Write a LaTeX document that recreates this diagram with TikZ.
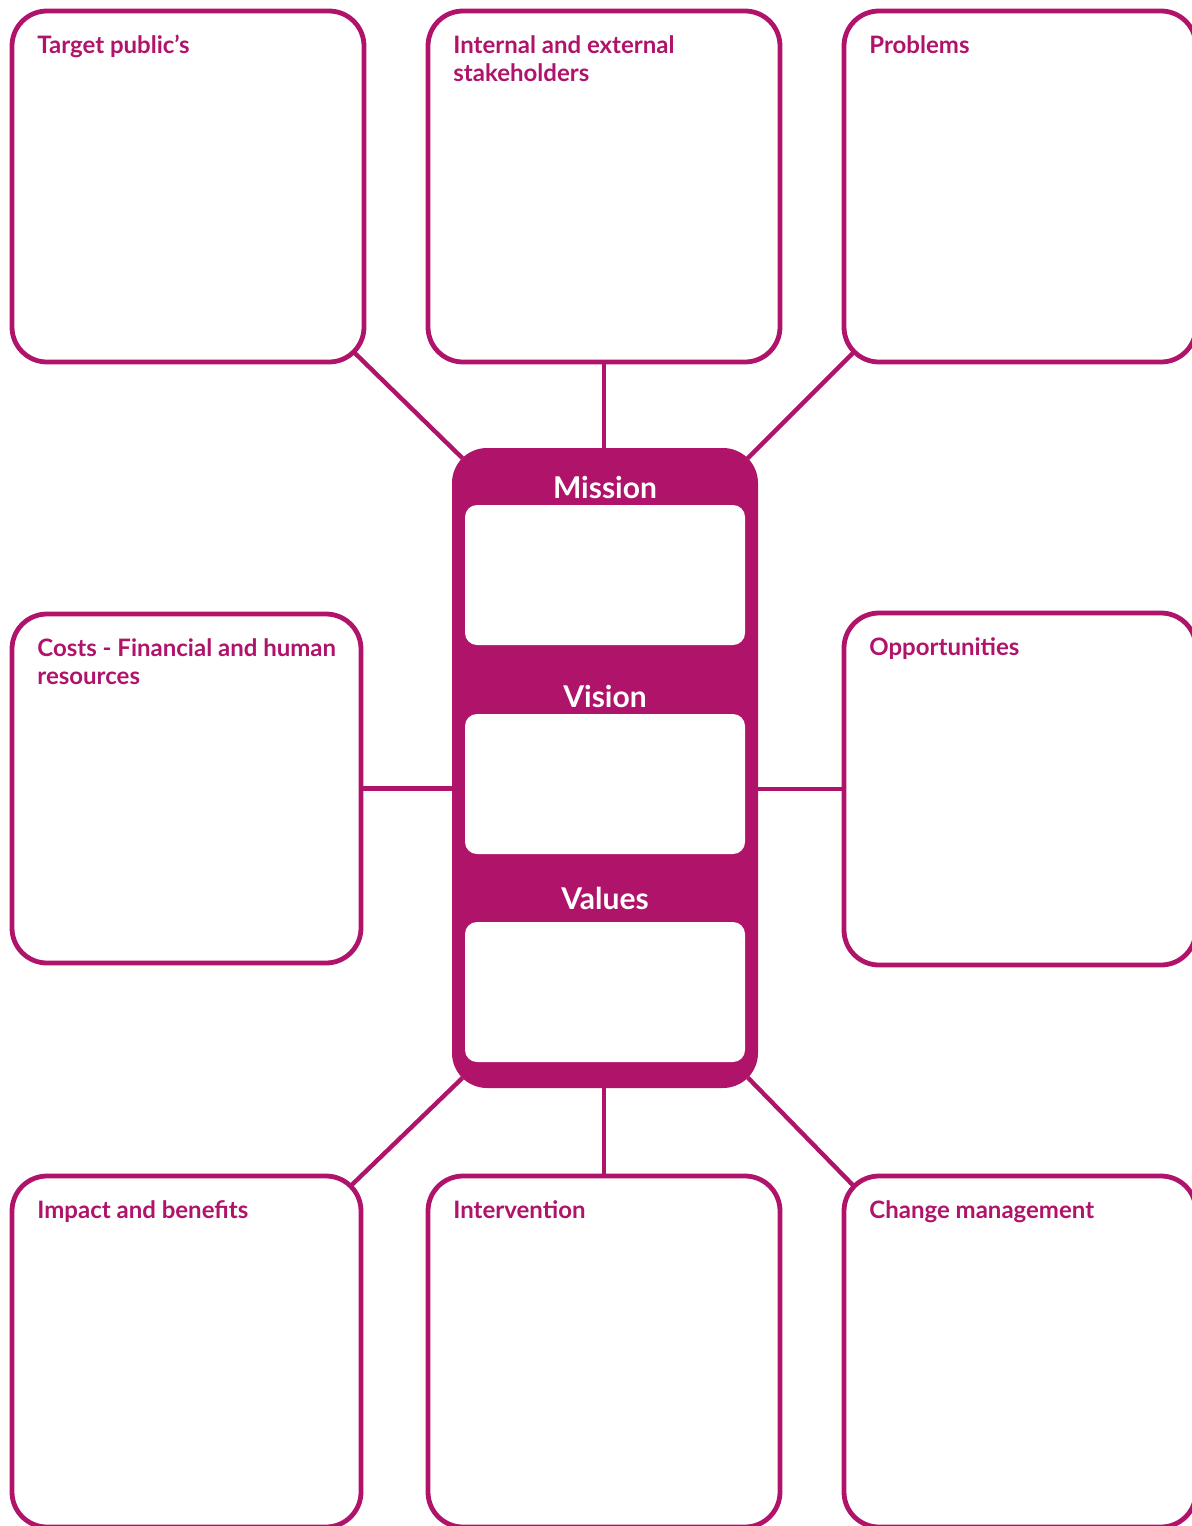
\documentclass[tikz,border=0pt]{standalone}
\usepackage{fontspec}
\setmainfont{Lato}
\usepackage{xcolor}
\usetikzlibrary{positioning}
\definecolor{plum}{RGB}{176,19,106}

\tikzset{
  card/.style={draw=plum, line width=2.4pt, rounded corners=17.5pt, outer sep=0pt,
    minimum width=176pt, minimum height=175.5pt},
  core/.style={fill=plum, rounded corners=17.5pt, outer sep=0pt,
    minimum width=153pt, minimum height=320pt},
  slot/.style={fill=white, rounded corners=6pt, outer sep=0pt,
    minimum width=140pt, minimum height=70pt},
  cardtitle/.style={anchor=north west, inner sep=0pt, align=left, text=plum,
    font=\fontsize{12}{14}\selectfont\bfseries},
  coretitle/.style={inner sep=0pt, text=white, font=\fontsize{15}{18}\selectfont\bfseries},
  link/.style={draw=plum, line width=2.2pt},
  diag/.style={link, shorten >=-7.25pt, shorten <=-7.25pt}
}

\begin{document}
\begin{tikzpicture}[x=0.5pt, y=-0.5pt]
  \useasboundingbox (0,0) rectangle (1192,1526);
  \clip (0,0) rectangle (1192,1526);

  % outer cards
  \node[card] (tl) at (188,186.5)  {};
  \node[card] (tm) at (604,186.5)  {};
  \node[card] (tr) at (1020,186.5) {};
  \node[card, minimum width=174.5pt, minimum height=174.5pt] (ml) at (186.5,788.5) {};
  \node[card, minimum height=176pt] (mr) at (1020,789) {};
  \node[card, minimum width=174.5pt] (bl) at (186.5,1351.5) {};
  \node[card] (bm) at (604,1351.5) {};
  \node[card] (br) at (1020,1351.5) {};

  % card titles
  \node[cardtitle] at ([shift={(25,24)}]tl.north west) {Target public’s};
  \node[cardtitle] at ([shift={(25,24)}]tm.north west) {Internal and external\\stakeholders};
  \node[cardtitle] at ([shift={(25,24)}]tr.north west) {Problems};
  \node[cardtitle] at ([shift={(25,24)}]ml.north west) {Costs - Financial and human\\resources};
  \node[cardtitle] at ([shift={(25,24)}]mr.north west) {Opportunities};
  \node[cardtitle] at ([shift={(25,24)}]bl.north west) {Impact and benefits};
  \node[cardtitle] at ([shift={(25,24)}]bm.north west) {Intervention};
  \node[cardtitle] at ([shift={(25,24)}]br.north west) {Change management};

  % central block
  \node[core] (mvv) at (605,768) {};
  \node[slot] (mission) at (605,575) {};
  \node[slot] (vision)  at (605,784) {};
  \node[slot] (values)  at (605,992) {};
  \node[coretitle] at (605,487) {Mission};
  \node[coretitle] at (605,696) {Vision};
  \node[coretitle] at (605,898) {Values};

  % links
  \draw[diag] (tl.south east) -- (mvv.north west);
  \draw[link] (tm.south) -- (mvv.north -| tm.south);
  \draw[diag] (tr.south west) -- (mvv.north east);
  \draw[link] (ml.east) -- (mvv.west |- ml.east);
  \draw[link] (mvv.east |- mr.west) -- (mr.west);
  \draw[diag] (mvv.south west) -- (bl.north east);
  \draw[link] (mvv.south -| bm.north) -- (bm.north);
  \draw[diag] (mvv.south east) -- (br.north west);
\end{tikzpicture}
\end{document}
